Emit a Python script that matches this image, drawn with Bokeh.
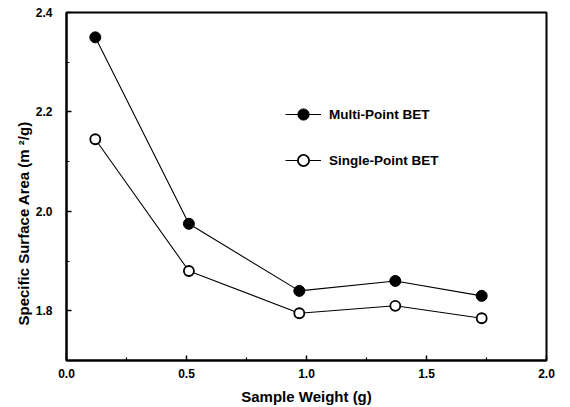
from bokeh.plotting import figure
from bokeh.models import FixedTicker, NumeralTickFormatter, Legend, LegendItem, Range1d, Title
from bokeh.embed import file_html
from bokeh.resources import INLINE

# Sample weight (g)
sample_weight = [0.12, 0.51, 0.97, 1.37, 1.73]
# Specific surface area (m²/g)
multi_point_bet = [2.35, 1.975, 1.84, 1.86, 1.83]
single_point_bet = [2.145, 1.88, 1.795, 1.81, 1.785]

x_ticks = [0.0, 0.5, 1.0, 1.5, 2.0]
x_minor = [0.25, 0.75, 1.25, 1.75]
y_ticks = [1.8, 2.0, 2.2, 2.4]
y_minor = [1.7, 1.9, 2.1, 2.3]

FONT = "Liberation Sans"
W, H = 570, 407

p = figure(width=W, height=H, output_backend="svg", toolbar_location=None,
           x_range=Range1d(0.0, 2.0), y_range=Range1d(1.7, 2.4),
           min_border_left=66, min_border_right=24, min_border_top=12, min_border_bottom=45)
p.background_fill_color = "white"
p.border_fill_color = "white"
p.grid.visible = False
p.outline_line_color = "black"
p.outline_line_width = 2

line_multi = p.line(sample_weight, multi_point_bet, line_color="black", line_width=1.1)
dots_multi = p.scatter(sample_weight, multi_point_bet, size=11, marker="circle",
                       fill_color="black", line_color="black")
line_single = p.line(sample_weight, single_point_bet, line_color="black", line_width=1.1)
dots_single = p.scatter(sample_weight, single_point_bet, size=10, marker="circle",
                        fill_color="white", line_color="black", line_width=1.8)

for ax in (p.xaxis[0], p.yaxis[0]):
    ax.axis_line_width = 2
    ax.axis_line_color = "black"
    ax.major_tick_in = 5
    ax.major_tick_out = 0
    ax.minor_tick_in = 3
    ax.minor_tick_out = 0
    ax.major_tick_line_width = 1.5
    ax.minor_tick_line_width = 1.2
    ax.major_label_text_font = FONT
    ax.major_label_text_font_style = "bold"
    ax.major_label_text_font_size = "12px"
    ax.major_label_text_color = "black"
    ax.axis_label_text_font = FONT
    ax.axis_label_text_font_style = "bold"
    ax.axis_label_text_font_size = "15px"
    ax.axis_label_text_color = "black"
    ax.formatter = NumeralTickFormatter(format="0.0")

p.xaxis.ticker = FixedTicker(ticks=x_ticks, minor_ticks=x_minor)
p.yaxis.ticker = FixedTicker(ticks=y_ticks, minor_ticks=y_minor)
p.xaxis.major_label_standoff = 8
p.yaxis.major_label_standoff = 14
p.xaxis.axis_label = "Sample Weight (g)"
p.xaxis.axis_label_standoff = 7

# y-axis title, anchored near the bottom of the frame rather than centred
y_title = Title(text="Specific Surface Area  (m \u00b2/g)", align="left", offset=35,
                text_font=FONT, text_font_style="bold", text_font_size="15px",
                text_color="black", standoff=2)
p.add_layout(y_title, "left")

legend = Legend(items=[
    LegendItem(label="Multi-Point BET", renderers=[line_multi, dots_multi]),
    LegendItem(label="Single-Point BET", renderers=[line_single, dots_single]),
], location=(219, 186))
legend.background_fill_alpha = 0
legend.border_line_alpha = 0
legend.padding = 0
legend.margin = 0
legend.glyph_width = 36
legend.glyph_height = 28
legend.label_standoff = 8
legend.spacing = 18
legend.label_text_font = FONT
legend.label_text_font_style = "bold"
legend.label_text_font_size = "13.5px"
legend.label_text_color = "black"
p.add_layout(legend)

open("out.html", "w").write(file_html(p, INLINE))
